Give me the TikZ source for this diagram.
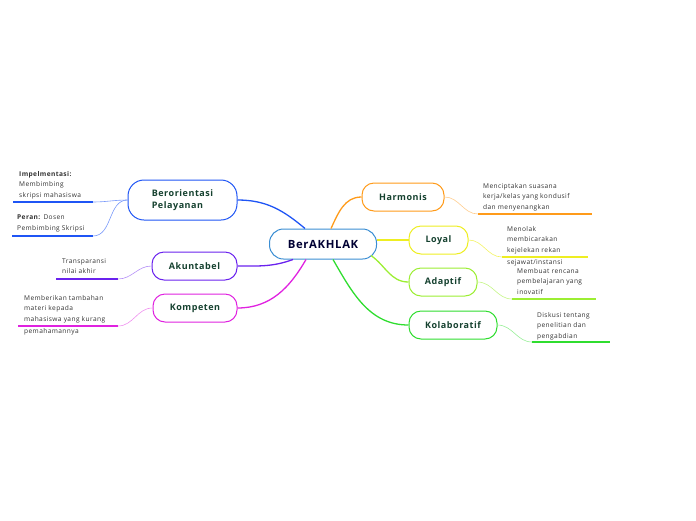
\documentclass[tikz,border=0pt]{standalone}
\usepackage{fontspec}
\setmainfont{Open Sans}[LetterSpace=6]
\usetikzlibrary{positioning}

\definecolor{centro}{HTML}{3B8ED3}
\definecolor{azul}{HTML}{1F55F5}
\definecolor{morado}{HTML}{6A22EE}
\definecolor{magenta}{HTML}{E022E0}
\definecolor{naranja}{HTML}{FF9B1A}
\definecolor{amarillo}{HTML}{EEEE22}
\definecolor{lima}{HTML}{9CEE33}
\definecolor{verde}{HTML}{2FDD2F}
\definecolor{titulo}{HTML}{15412F}
\definecolor{gris}{HTML}{333333}

\tikzstyle{rama}= [rectangle,rounded corners=12pt,draw,line width=1pt,fill=white,text=titulo,font=\fontsize{9}{11.5}\selectfont\bfseries,align=left,minimum height=28pt]
\tikzstyle{hoja}= [inner sep=0pt,anchor=north west,align=left,text=gris,font=\fontsize{6.6}{10.7}\selectfont]

\begin{document}
\begin{tikzpicture}[x=1pt,y=-1pt]

		\useasboundingbox (0,0) rectangle (696,520);

		\node (a) at (323,244) [rama,draw=centro,text=black!80!blue,font=\fontsize{11.3}{13}\selectfont\bfseries,minimum width=107pt,minimum height=30pt,rounded corners=14pt] {BerAKHLAK};

		\node (b) at (182.5,200) [rama,draw=azul,minimum width=109pt,minimum height=40pt,rounded corners=16pt] {Berorientasi\\Pelayanan};
		\node (c) at (194.5,266) [rama,draw=morado,minimum width=85pt] {Akuntabel};
		\node (d) at (195,308) [rama,draw=magenta,minimum width=84pt] {Kompeten};
		\node (h) at (403,197) [rama,draw=naranja,minimum width=82pt] {Harmonis};
		\node (l) at (438.5,240) [rama,draw=amarillo,minimum width=59pt] {Loyal};
		\node (p) at (443,282) [rama,draw=lima,minimum width=68pt] {Adaptif};
		\node (k) at (453,325) [rama,draw=verde,minimum width=88pt] {Kolaboratif};

		% hojas
		\node (b1) at (19,171) [hoja] {\textbf{Impelmentasi:}\\Membimbing\\skripsi mahasiswa};
		\node (b2) at (17,215) [hoja] {\textbf{Peran:} Dosen\\Pembimbing Skripsi};
		\node (c1) at (62,258) [hoja] {Transparansi\\nilai akhir};
		\node (d1) at (24,295) [hoja] {Memberikan tambahan\\materi kepada\\mahasiswa yang kurang\\[1pt]pemahamannya};
		\node (h1) at (483,183) [hoja] {Menciptakan suasana\\kerja/kelas yang kondusif\\dan menyenangkan};
		\node (l1) at (507,226) [hoja] {Menolak\\membicarakan\\kejelekan rekan\\[1.5pt]sejawat/instansi};
		\node (p1) at (517,268) [hoja] {Membuat rencana\\pembelajaran yang\\inovatif};
		\node (k1) at (537,312) [hoja] {Diskusi tentang\\penelitian dan\\pengabdian};

		\coordinate (b1i) at (13,202);  \coordinate (b1d) at (93,202);
		\coordinate (b2i) at (12,236);  \coordinate (b2d) at (93,236);
		\coordinate (c1i) at (56,279);  \coordinate (c1d) at (118,279);
		\coordinate (d1i) at (18,326);  \coordinate (d1d) at (118,326);
		\coordinate (h1i) at (478,214); \coordinate (h1d) at (592,214);
		\coordinate (l1i) at (502,257); \coordinate (l1d) at (588,257);
		\coordinate (p1i) at (512,299); \coordinate (p1d) at (596,299);
		\coordinate (k1i) at (532,342); \coordinate (k1d) at (610,342);

		\path[line width=2pt,azul] (b1i) edge[] node {} (b1d);
		\path[line width=2pt,azul] (b2i) edge[] node {} (b2d);
		\path[line width=2pt,morado] (c1i) edge[] node {} (c1d);
		\path[line width=2pt,magenta] (d1i) edge[] node {} (d1d);
		\path[line width=2pt,naranja] (h1i) edge[] node {} (h1d);
		\path[line width=2pt,amarillo] (l1i) edge[] node {} (l1d);
		\path[line width=2pt,lima] (p1i) edge[] node {} (p1d);
		\path[line width=2pt,verde] (k1i) edge[] node {} (k1d);

		% ramas principales
		\path[azul,line width=1.3pt] ([xshift=-18pt]a.north) edge[out=140,in=0] node {} (b.east);
		\path[naranja,line width=1.3pt] ([xshift=8pt]a.north) edge[out=65,in=180] node {} (h.west);
		\path[amarillo,line width=1.3pt] ([yshift=4pt]a.east) edge[] node {} (l.west);
		\path[lima,line width=1.3pt] ([xshift=-6pt,yshift=4pt]a.south east) edge[out=-35,in=180] node {} (p.west);
		\path[verde,line width=1.3pt] ([xshift=10pt]a.south) edge[out=-60,in=180] node {} (k.west);
		\path[morado,line width=1.3pt] ([xshift=-30pt]a.south) edge[out=200,in=0] node {} (c.east);
		\path[magenta,line width=1.3pt] ([xshift=-17pt]a.south) edge[out=240,in=0] node {} (d.east);

		% ramas de hojas
		\path[azul!60,line width=0.6pt] (b.west) edge[out=180,in=0] node {} (b1d);
		\path[azul!60,line width=0.6pt] (b.west) edge[out=180,in=0] node {} (b2d);
		\path[morado!50,line width=0.6pt] (c.west) edge[out=180,in=0] node {} (c1d);
		\path[magenta!50,line width=0.6pt] (d.west) edge[out=180,in=0] node {} (d1d);
		\path[naranja!50,line width=0.6pt] (h.east) edge[out=0,in=180] node {} (h1i);
		\path[amarillo!70,line width=0.6pt] (l.east) edge[out=0,in=180] node {} (l1i);
		\path[lima!60,line width=0.6pt] (p.east) edge[out=0,in=180] node {} (p1i);
		\path[verde!50,line width=0.6pt] (k.east) edge[out=0,in=180] node {} (k1i);

	\end{tikzpicture}
\end{document}
